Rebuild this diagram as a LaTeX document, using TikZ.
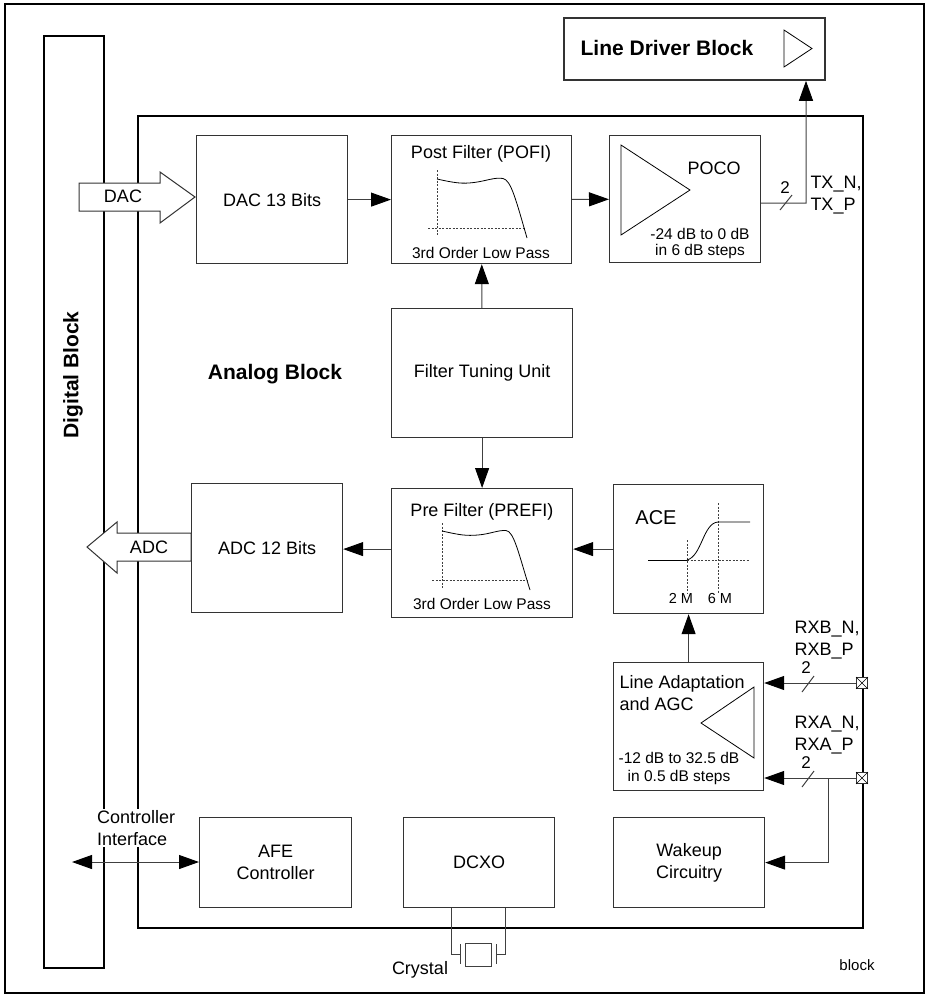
\documentclass[tikz,border=0pt]{standalone}
\usepackage{fontspec}
\setmainfont{Liberation Sans}
\usetikzlibrary{positioning,arrows.meta,shapes}
\tikzset {
    style A/.style={
        draw=black!80,
        line width=1.2pt,
        rectangle, % plain block
        anchor=north west,
        align=center,
        inner sep=0pt,
    },
    style B/.style={
        font=\fontsize{21}{24}\selectfont\bfseries,
        align=center,
    },
    style C/.style={
        font=\fontsize{15.5}{17}\selectfont,
        align=center,
        inner sep=0pt,
    },
    style D/.style={
        draw=black!80,
        fill=white,
        line width=1pt,
    },
    style E/.style={
        draw=black,
        line width=2pt,
        rectangle, % big block
        anchor=north west,
        inner sep=0pt,
    },
    style F/.style={
        draw=black!75,
        line width=0.8pt,
        dash pattern=on 2pt off 1.5pt,
    },
}
\begin{document}
\begin{tikzpicture}
[x=1pt, y=-1pt, font=\fontsize{18}{22}\selectfont,
wire/.style={draw=black!75, line width=1pt},
>={Triangle[length=20pt,width=14pt,color=black]}]
\useasboundingbox (0,0) rectangle (928,997);

% frame, digital and analog block
\draw[line width=1.5pt] (5,4) rectangle (924,993);
\node[style E, minimum width=60, minimum height=932] (digital) at (43,35) {};
\node[style B, rotate=90] (digitaltitle) at (73,375) {Digital Block};
\node[style E, minimum width=725, minimum height=812] (analog) at (137,115) {};
\node[style B] (analogtitle) at (275,374) {Analog Block};

% line driver
\node[style A, line width=1.8pt, minimum width=261, minimum height=62] (driver) at (563,17) {};
\node[style B] (drivertitle) at (667,48) {Line Driver Block};
\draw[line width=0.8pt] (784,30) -- (812,48.5) -- (784,67) -- cycle;

% transmit path
\node[style A, minimum width=151, minimum height=128] (dac) at (196,135) {DAC 13 Bits};
\node[style A, minimum width=180, minimum height=128] (pofi) at (391,135) {};
\node[style A, minimum width=151, minimum height=127] (poco) at (609,135) {};
\node (pofititle) at (481,154) {Post Filter (POFI)};
\node[style C] (pofiorder) at (481,253) {3rd Order Low Pass};
\draw[style F] (437,170) -- (437,236);
\draw[style F] (428,228) -- (525,228);
\draw[line width=0.8pt] (437,179) .. controls (455,183) and (462,184) .. (474,182.5)
  .. controls (486,181) and (495,177) .. (503,178.5)
  .. controls (511,180) and (516,200) .. (527,238);
\draw[line width=0.8pt] (621,145) -- (690,190) -- (621,235) -- cycle;
\node (pocotitle) at (714,168) {POCO};
\node[style C, font=\fontsize{15.5}{16}\selectfont] (pocogain) at (700,243) {-24 dB to 0 dB\\in 6 dB steps};

% filter tuning
\node[style A, minimum width=181, minimum height=129] (ftu) at (391,308) {Filter Tuning Unit};

% receive path
\node[style A, minimum width=151, minimum height=129] (adc) at (191,483) {ADC 12 Bits};
\node[style A, minimum width=181, minimum height=129] (prefi) at (391,488) {};
\node[style A, minimum width=150, minimum height=129] (ace) at (613,484) {};
\node[style A, minimum width=150, minimum height=128] (adapt) at (613,662) {};
\node (prefititle) at (482,512) {Pre Filter (PREFI)};
\node[style C] (prefiorder) at (482,604) {3rd Order Low Pass};
\draw[style F] (442,523) -- (442,588);
\draw[style F] (432,580) -- (527,580);
\draw[line width=0.8pt] (442,531) .. controls (460,535) and (466,536) .. (478,535)
  .. controls (490,534) and (498,530) .. (506,530.5)
  .. controls (514,531) and (519,555) .. (530,590);
\node[font=\fontsize{20}{24}\selectfont] (acetitle) at (656,518) {ACE};
\draw[line width=0.8pt] (648,560) -- (687,560);
\draw[style F] (687,560) -- (750,560);
\draw[style F] (687,540) -- (687,593);
\draw[style F] (718,503) -- (718,593);
\draw[line width=0.8pt] (687,560) .. controls (702,556) and (703,523) .. (718,522) -- (750,522);
\node[style C, font=\fontsize{14.5}{16}\selectfont] (ace2m) at (681,598) {2 M};
\node[style C, font=\fontsize{14.5}{16}\selectfont] (ace6m) at (720,598) {6 M};
\node[align=left, anchor=west] (adapttitle) at (616,693) {Line Adaptation\\and AGC};
\draw[line width=0.8pt] (754,687) -- (701,723) -- (754,758) -- cycle;
\node[style C, font=\fontsize{15.5}{18}\selectfont] (adaptgain) at (679,768) {-12 dB to 32.5 dB\\in 0.5 dB steps};

% bottom row
\node[style A, minimum width=152, minimum height=90] (afe) at (199,817) {AFE\\Controller};
\node[style A, minimum width=151, minimum height=90] (dcxo) at (403,817) {DCXO};
\node[style A, minimum width=151, minimum height=90] (wakeup) at (613,817) {Wakeup\\Circuitry};

% hollow bus arrows
\draw[style D] (79,183) -- (160,183) -- (160,172) -- (195,197) -- (160,223) -- (160,211) -- (79,211) -- cycle;
\node (dacbus) at (123,196) {DAC};
\draw[style D] (191,533) -- (117,533) -- (117,522) -- (87,547) -- (117,573) -- (117,561) -- (191,561) -- cycle;
\node (adcbus) at (149,547) {ADC};

% connectors
\draw[wire, ->] (dac) -- (pofi);
\draw[wire, ->] (pofi) -- (poco);
\coordinate (txup) at (806,203);
\draw[wire, ->] ([yshift=-4pt]poco.east) -- (txup) -- (txup |- driver.south);
\draw[wire] (780,210) -- (792,195);
\node[style C, font=\fontsize{17}{19}\selectfont] (txcount) at (785,188) {2};
\node[align=left] (txlabel) at (836,195) {TX\_N,\\TX\_P};
\draw[wire, ->] (ftu) -- (pofi);
\draw[wire, ->] (ftu) -- (prefi);
\draw[wire, ->] (ace.west) -- (ace.west -| prefi.east);
\draw[wire, ->] (prefi.west |- ace.west) -- (ace.west -| adc.east);
\draw[wire, ->] (adapt) -- (ace);

% receive pins
\node[draw=black!80, fill=white, minimum size=11pt, inner sep=0pt, line width=0.8pt] (pinb) at (862,683) {};
\draw[line width=0.6pt] (pinb.north west) -- (pinb.south east) (pinb.north east) -- (pinb.south west);
\node[draw=black!80, fill=white, minimum size=11pt, inner sep=0pt, line width=0.8pt] (pina) at (862,778) {};
\draw[line width=0.6pt] (pina.north west) -- (pina.south east) (pina.north east) -- (pina.south west);
\draw[wire, ->] (pinb.west) -- (pinb.west -| adapt.east);
\draw[wire, ->] (pina.west) -- (pina.west -| adapt.east);
\draw[wire] (802,692) -- (814,676);
\node[style C, font=\fontsize{17}{19}\selectfont] (rxbcount) at (806,668) {2};
\draw[wire] (802,787) -- (814,771);
\node[style C, font=\fontsize{17}{19}\selectfont] (rxacount) at (806,763) {2};
\node[align=left, anchor=west] (rxblabel) at (791,640) {RXB\_N,\\RXB\_P};
\node[align=left, anchor=west] (rxalabel) at (791,735) {RXA\_N,\\RXA\_P};
\coordinate (rxbranch) at (828,778);
\draw[wire, ->] (rxbranch) |- (wakeup.east);

% controller interface
\node[fill=white, align=left, anchor=west, inner sep=1pt] (ctrlif) at (96,828) {Controller\\Interface};
\coordinate (ctrlend) at (72,862);
\draw[wire, <->] (ctrlend) -- (ctrlend -| afe.west);

% crystal
\coordinate (xtall) at (460,954);
\coordinate (xtalr) at (496,954);
\draw[wire] ([xshift=-28pt]dcxo.south) |- (xtall);
\draw[wire] ([xshift=26pt]dcxo.south) |- (xtalr);
\draw[wire] (460,944) -- (460,964);
\draw[wire] (496,944) -- (496,964);
\draw[wire] (465,943) rectangle (491,966);
\node (xtallabel) at (420,970) {Crystal};
\node[style C, font=\fontsize{15}{17}\selectfont] (figname) at (857,965) {block};

\end{tikzpicture}
\end{document}
